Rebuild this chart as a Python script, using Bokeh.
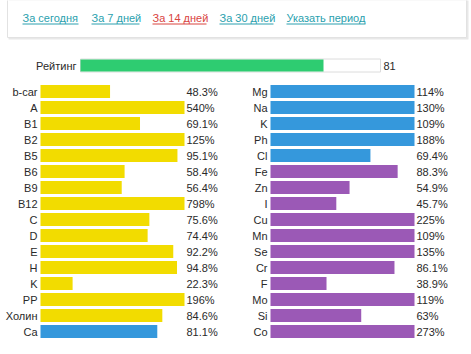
from bokeh.plotting import figure
from bokeh.models import Range1d, ColumnDataSource
from bokeh.core.properties import value
from bokeh.embed import file_html
from bokeh.resources import INLINE

# ---- data ----
link_labels = ["За сегодня", "За 7 дней", "За 14 дней", "За 30 дней", "Указать период"]
link_active = [False, False, True, False, False]

rating_label = "Рейтинг"
rating_value = 81
rating_max = 100

left_labels = ["b-car", "A", "B1", "B2", "B5", "B6", "B9", "B12", "C", "D", "E", "H", "K", "PP", "Холин", "Ca"]
left_values = [48.3, 540, 69.1, 125, 95.1, 58.4, 56.4, 798, 75.6, 74.4, 92.2, 94.8, 22.3, 196, 84.6, 81.1]
left_groups = ["vit"] * 15 + ["macro"]

right_labels = ["Mg", "Na", "K", "Ph", "Cl", "Fe", "Zn", "I", "Cu", "Mn", "Se", "Cr", "F", "Mo", "Si", "Co"]
right_values = [114, 130, 109, 188, 69.4, 88.3, 54.9, 45.7, 225, 109, 135, 86.1, 38.9, 119, 63, 273]
right_groups = ["macro"] * 5 + ["micro"] * 11

# ---- style / layout ----
W, H = 471, 354
FONT = value("Liberation Sans")
TXT = "#2a2a2a"
colors = {"vit": "#f2dc00", "macro": "#3598dc", "micro": "#9b59b6"}
link_color = "#2a9fae"
link_active_color = "#d9443f"
row0, row_step, bar_h = 91, 16, 13
bar_px = 144  # pixels for 100%
link_x = [22, 91, 152, 219, 286]
link_w = [56, 48, 54, 54, 79]

p = figure(width=W, height=H, x_range=Range1d(0, W), y_range=Range1d(H, 0),
           toolbar_location=None, output_backend="svg", min_border=0)
p.axis.visible = False
p.grid.visible = False
p.outline_line_color = None
p.background_fill_color = "white"
p.border_fill_color = "white"

# top panel with shadow
p.quad(left=[8], right=[468], top=[-5], bottom=[39], fill_color="#d8d8d8", fill_alpha=0.6, line_color=None)
p.quad(left=[7], right=[466], top=[-5], bottom=[37], fill_color="white", line_color="#e2e2e2", line_width=1)

lcols = [link_active_color if a else link_color for a in link_active]
p.text(x=link_x, y=[17] * len(link_x), text=link_labels, text_font=FONT, text_font_size="11px",
       text_color=lcols, text_baseline="middle", text_align="left")
p.segment(x0=link_x, x1=[a + b for a, b in zip(link_x, link_w)], y0=[23.5] * 5, y1=[23.5] * 5,
          line_color=lcols, line_width=1)

# rating bar
r_left, r_width = 80, 300
p.quad(left=[r_left], right=[r_left + r_width], top=[58.5], bottom=[71.5],
       fill_color="white", line_color="#dcdcdc", line_width=1)
p.quad(left=[r_left], right=[r_left + r_width * rating_value / rating_max], top=[59], bottom=[71],
       fill_color="#2ecc71", line_color=None)
p.text(x=[r_left - 4], y=[65], text=[rating_label], text_font=FONT, text_font_size="11px",
       text_color=TXT, text_baseline="middle", text_align="right")
p.text(x=[r_left + r_width + 3], y=[65], text=[str(rating_value)], text_font=FONT, text_font_size="11px",
       text_color=TXT, text_baseline="middle", text_align="left")


def column(labels, values, groups, x0):
    ys = [row0 + row_step * i for i in range(len(labels))]
    src = ColumnDataSource(dict(
        y=ys,
        left=[x0] * len(labels),
        right=[x0 + bar_px * min(v, 100) / 100 for v in values],
        color=[colors[g] for g in groups],
        lab=labels,
        val=[f"{v:g}%" for v in values],
        lx=[x0 - 3] * len(labels),
        vx=[x0 + bar_px + 2] * len(labels),
    ))
    p.hbar(y="y", left="left", right="right", height=bar_h, fill_color="color", line_color=None, source=src)
    p.text(x="lx", y="y", text="lab", source=src, text_font=FONT, text_font_size="11px",
           text_color=TXT, text_baseline="middle", text_align="right")
    p.text(x="vx", y="y", text="val", source=src, text_font=FONT, text_font_size="11px",
           text_color=TXT, text_baseline="middle", text_align="left")


column(left_labels, left_values, left_groups, 40)
column(right_labels, right_values, right_groups, 270)

open("out.html", "w").write(file_html(p, INLINE))
